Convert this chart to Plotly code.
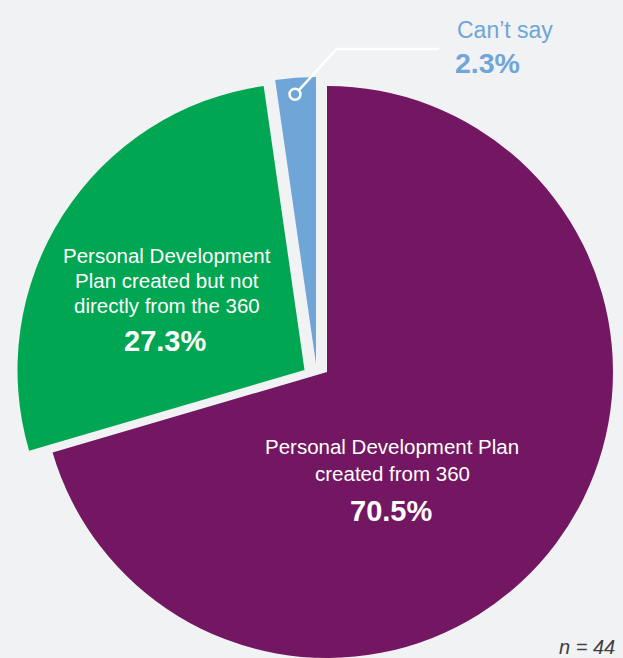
import plotly.graph_objects as go

# ---- data ----
labels = ["Personal Development Plan created from 360",
          "Personal Development Plan created but not directly from the 360",
          "Can\u2019t say"]
counts = [31, 12, 1]
percent_text = ["70.5%", "27.3%", "2.3%"]
colors = ["#741763", "#00a651", "#6fa5d7"]
n_total = 44

W, H = 623, 658
BG = "#f1f2f4"
FONT = "Arial, Liberation Sans, sans-serif"

# slice centres (px) and radius for exploded layout
centres = [(327, 372, 286), (304.5, 370, 287), (316, 364, 287)]


def px(x):
    return x / W


def py(y):
    return 1 - y / H


fig = go.Figure()
for i, (cx, cy, r) in enumerate(centres):
    cols = [c if j == i else "rgba(0,0,0,0)" for j, c in enumerate(colors)]
    fig.add_trace(go.Pie(
        values=counts, labels=labels, sort=False, direction="clockwise",
        rotation=0, textinfo="none", showlegend=False,
        marker=dict(colors=cols, line=dict(width=0)),
        hoverinfo="label+percent" if i == 0 else "skip",
        domain=dict(x=[px(cx - r), px(cx + r)], y=[py(cy + r), py(cy - r)]),
    ))

ann = []


def add_text(txt, x, baseline, size, color, bold=False, anchor="center", italic=False):
    ann.append(dict(
        text=txt, x=px(x), y=py(baseline - 0.36 * size), xref="paper", yref="paper",
        xanchor=anchor, yanchor="middle", showarrow=False,
        font=dict(family=FONT, size=size, color=color,
                  weight="bold" if bold else "normal",
                  style="italic" if italic else "normal"),
    ))


# green slice label
for t, b in zip(["Personal Development", "Plan created but not", "directly from the 360"],
                [263.3, 287.7, 312.7]):
    add_text(t, 166.5, b, 20.5, "white")
add_text(percent_text[1], 165, 351.7, 29, "white", bold=True)

# purple slice label
for t, b in zip(["Personal Development Plan", "created from 360"], [454.3, 481]):
    add_text(t, 392, b, 20.5, "white")
add_text(percent_text[0], 391, 521.7, 29, "white", bold=True)

# blue slice label (callout)
add_text("Can\u2019t say", 455, 38.3, 23, colors[2], anchor="left")
add_text(percent_text[2], 453, 73.3, 28.5, colors[2], bold=True, anchor="left")

# sample size
add_text(f"n = {n_total}", 557, 654, 20, "#404040", anchor="left", italic=True)

shapes = [
    dict(type="path", xref="paper", yref="paper",
         path=f"M {px(295)},{py(94.3)} L {px(336.7)},{py(49)} L {px(439.3)},{py(49)}",
         line=dict(color="white", width=2.5)),
    dict(type="circle", xref="paper", yref="paper",
         x0=px(295 - 5.5), x1=px(295 + 5.5), y0=py(94.3 + 5.5), y1=py(94.3 - 5.5),
         fillcolor=colors[2], line=dict(color="white", width=2.5)),
]

fig.update_layout(
    width=W, height=H, margin=dict(l=0, r=0, t=0, b=0),
    paper_bgcolor=BG, plot_bgcolor=BG,
    annotations=ann, shapes=shapes, showlegend=False,
)

fig.write_html(
    "out.html",
    config={"displayModeBar": False},
    post_script="document.body.style.margin='0';document.body.style.overflow='hidden';",
)
